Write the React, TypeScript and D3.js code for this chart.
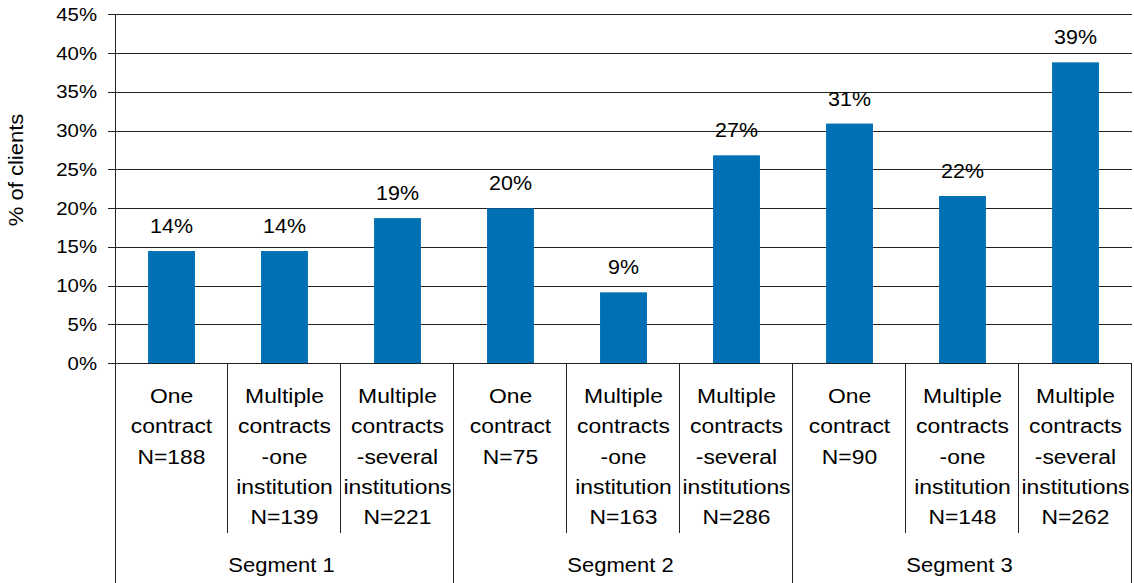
import { useEffect, useRef } from 'react';
import * as d3 from 'd3';

// values (bar heights in %)
const categories = [
  ['One', 'contract', 'N=188'],
  ['Multiple', 'contracts', '-one', 'institution', 'N=139'],
  ['Multiple', 'contracts', '-several', 'institutions', 'N=221'],
  ['One', 'contract', 'N=75'],
  ['Multiple', 'contracts', '-one', 'institution', 'N=163'],
  ['Multiple', 'contracts', '-several', 'institutions', 'N=286'],
  ['One', 'contract', 'N=90'],
  ['Multiple', 'contracts', '-one', 'institution', 'N=148'],
  ['Multiple', 'contracts', '-several', 'institutions', 'N=262'],
];
const values = [14.45, 14.45, 18.7, 19.96, 9.12, 26.8, 30.9, 21.55, 38.8];
const segments = ['Segment 1', 'Segment 2', 'Segment 3'];
const yTicks = [0, 5, 10, 15, 20, 25, 30, 35, 40, 45];

const W = 1134;
const H = 583;
const FONT = '"Liberation Sans", Arial, Helvetica, sans-serif';
const SX = 1.1; // text in the reference looks slightly stretched horizontally

export default function App() {
  const svgRef = useRef<SVGSVGElement>(null);

  useEffect(() => {
    if (!svgRef.current) return;
    const svg = d3.select(svgRef.current);
    svg.selectAll('*').remove();

    const margin = { top: 14.3, right: 2, bottom: 220, left: 115 };
    const x = d3.scaleBand<number>()
      .domain(values.map((_, i) => i))
      .range([margin.left, W - margin.right])
      .padding(0);
    const y = d3.scaleLinear().domain([0, 45]).range([363, margin.top]);
    const barW = x.bandwidth() * 0.415;

    const label = (g: any, tx: number, ty: number, str: string, size: number, anchor: string) =>
      g.append('text')
        .attr('transform', `translate(${tx},${ty}) scale(${SX},1)`)
        .attr('text-anchor', anchor)
        .attr('font-family', FONT)
        .attr('font-size', size)
        .attr('fill', '#000')
        .text(str);

    // gridlines + y ticks
    const grid = svg.append('g');
    yTicks.forEach(t => {
      grid.append('line')
        .attr('x1', margin.left - 7).attr('x2', W - margin.right)
        .attr('y1', Math.round(y(t)) + 0.5).attr('y2', Math.round(y(t)) + 0.5)
        .attr('stroke', '#222').attr('stroke-width', 1);
      label(grid, margin.left - 18, y(t) + 6.7, `${t}%`, 18.5, 'end');
    });

    // bars
    svg.append('g').selectAll('rect')
      .data(values)
      .join('rect')
      .attr('x', (_, i) => x(i)! + (x.bandwidth() - barW) / 2)
      .attr('y', d => y(d))
      .attr('width', barW)
      .attr('height', d => y(0) - y(d))
      .attr('fill', '#0070b4');

    // data labels
    const dl = svg.append('g');
    values.forEach((v, i) => {
      label(dl, x(i)! + x.bandwidth() / 2, y(v) - 18, `${Math.round(v)}%`, 19.5, 'middle');
    });

    // axis lines
    const ax = svg.append('g').attr('stroke', '#222').attr('stroke-width', 1);
    ax.append('line')
      .attr('x1', margin.left + 0.5).attr('x2', margin.left + 0.5)
      .attr('y1', margin.top).attr('y2', H);
    values.forEach((_, i) => {
      const xe = Math.round(x(i)! + x.bandwidth()) - 0.5;
      const isSeg = (i + 1) % 3 === 0;
      ax.append('line')
        .attr('x1', xe).attr('x2', xe)
        .attr('y1', y(0)).attr('y2', isSeg ? H : 533);
    });

    // category labels
    const cl = svg.append('g');
    categories.forEach((lines, i) => {
      lines.forEach((s, j) => {
        label(cl, x(i)! + x.bandwidth() / 2, 403 + j * 30.3, s, 20.8, 'middle');
      });
    });

    // segment labels
    segments.forEach((s, k) => {
      const x0 = x(k * 3)!;
      const x1 = x(k * 3 + 2)! + x.bandwidth();
      label(cl, (x0 + x1) / 2 - 3, 572, s, 20, 'middle');
    });

    // y axis title
    svg.append('text')
      .attr('transform', `translate(23,170) rotate(-90) scale(1.05,1)`)
      .attr('text-anchor', 'middle')
      .attr('font-family', FONT)
      .attr('font-size', 21)
      .attr('fill', '#000')
      .text('% of clients');
  }, []);

  return (
    <div style={{ position: 'absolute', left: 0, top: 0, width: W, height: H, background: '#fff' }}>
      <svg ref={svgRef} width={W} height={H} style={{ display: 'block' }} />
    </div>
  );
}
